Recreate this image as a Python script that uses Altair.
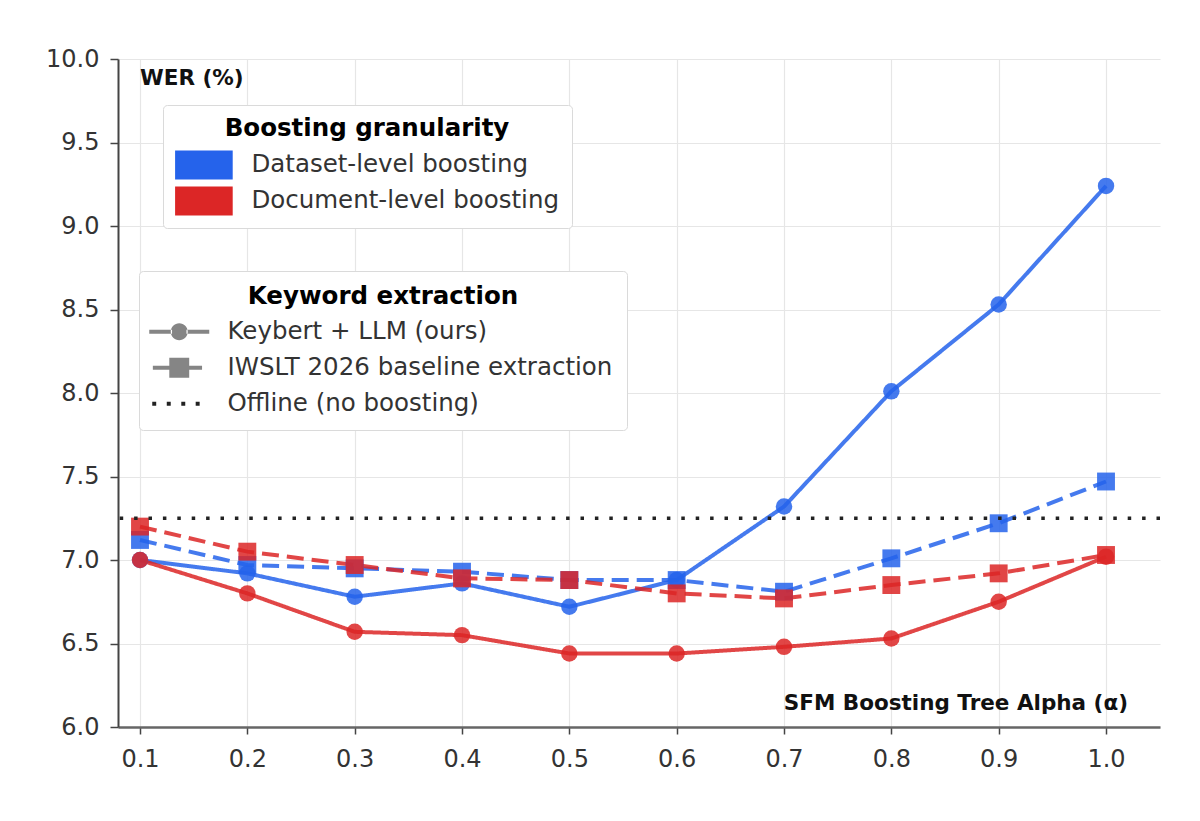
import altair as alt
import pandas as pd

alphas = [0.1, 0.2, 0.3, 0.4, 0.5, 0.6, 0.7, 0.8, 0.9, 1.0]

dataset_keybert = [7.00, 6.92, 6.78, 6.86, 6.72, 6.88, 7.32, 8.01, 8.53, 9.24]
dataset_baseline = [7.12, 6.97, 6.95, 6.93, 6.88, 6.88, 6.81, 7.01, 7.22, 7.47]
document_keybert = [7.00, 6.80, 6.57, 6.55, 6.44, 6.44, 6.48, 6.53, 6.75, 7.02]
document_baseline = [7.20, 7.05, 6.97, 6.89, 6.88, 6.80, 6.77, 6.85, 6.92, 7.03]
offline_wer = [7.25]

granularities = ["Dataset-level boosting", "Document-level boosting"]
methods = ["Keybert + LLM (ours)", "IWSLT 2026 baseline extraction"]
keyword_entries = methods + ["Offline (no boosting)"]

x_ticks = [0.1, 0.2, 0.3, 0.4, 0.5, 0.6, 0.7, 0.8, 0.9, 1.0]
y_ticks = [6.0, 6.5, 7.0, 7.5, 8.0, 8.5, 9.0, 9.5, 10.0]

BLUE = "#2563eb"
RED = "#dc2626"
FONT = "DejaVu Sans"


def get_df():
    rows = []
    series = [
        (granularities[0], methods[0], dataset_keybert),
        (granularities[0], methods[1], dataset_baseline),
        (granularities[1], methods[0], document_keybert),
        (granularities[1], methods[1], document_baseline),
    ]
    for gran, method, values in series:
        for a, w in zip(alphas, values):
            rows.append({"alpha": a, "wer": w, "granularity": gran, "method": method})
    return pd.DataFrame(rows)


def legend_box(title, x, y, **kwargs):
    return alt.Legend(
        title=title, orient="none", legendX=x, legendY=y,
        symbolStrokeWidth=0, symbolOpacity=1, titleAnchor="middle",
        titleFontSize=24.5, titleFontWeight="bold", titleColor="black",
        labelFontSize=24.5, labelColor="#333", labelLimit=600, titleLimit=600,
        fillColor="white", strokeColor="#dadada", cornerRadius=4, **kwargs
    )


df = get_df()

x_enc = alt.X(
    "alpha:Q",
    scale=alt.Scale(domain=[0.0795, 1.0503], nice=False, zero=False),
    axis=alt.Axis(values=x_ticks, format=".1f", title=None, tickSize=7,
                  labelPadding=13, domainWidth=2.5, domainColor="#666"),
)
y_enc = alt.Y(
    "wer:Q",
    scale=alt.Scale(domain=[6, 10], nice=False, zero=False),
    axis=alt.Axis(values=y_ticks, format=".1f", title=None, tickSize=8,
                  labelPadding=11, domainWidth=2, domainColor="#444"),
)
color_scale = alt.Scale(domain=granularities, range=[BLUE, RED])

lines = alt.Chart(df).mark_line(strokeWidth=4, opacity=0.85).encode(
    x=x_enc,
    y=y_enc,
    color=alt.Color("granularity:N", scale=color_scale, legend=None),
    strokeDash=alt.StrokeDash(
        "method:N",
        scale=alt.Scale(domain=methods, range=[[1, 0], [17, 8]]),
        legend=None,
    ),
)

points = alt.Chart(df).mark_point(filled=True, opacity=0.85, strokeWidth=0).encode(
    x="alpha:Q",
    y="wer:Q",
    color=alt.Color("granularity:N", scale=color_scale, legend=None),
    shape=alt.Shape("method:N", scale=alt.Scale(domain=methods, range=["circle", "square"]), legend=None),
    size=alt.Size("method:N", scale=alt.Scale(domain=methods, range=[270, 320]), legend=None),
)

offline = alt.Chart(pd.DataFrame({"wer": offline_wer})).mark_rule(
    strokeDash=[3.5, 10.9], strokeWidth=3.5, color="#222"
).encode(y="wer:Q")

wer_label = alt.Chart(pd.DataFrame({"t": ["WER (%)"]})).mark_text(
    align="left", baseline="middle", fontSize=21.5, fontWeight="bold", color="#111"
).encode(x=alt.datum(0.1), y=alt.datum(9.878), text="t:N")

alpha_label = alt.Chart(pd.DataFrame({"t": ["SFM Boosting Tree Alpha (α)"]})).mark_text(
    align="right", baseline="middle", fontSize=21.5, fontWeight="bold", color="#111"
).encode(x=alt.datum(1.0205), y=alt.datum(6.135), text="t:N")

# legend-only layers (invisible marks, visible legends)
gran_legend = legend_box(
    "Boosting granularity", 45, 46,
    symbolType="M-2,-1H2V1H-2Z", symbolSize=830, symbolOffset=14.4,
    labelOffset=33, rowPadding=7, padding=12, titlePadding=9,
)
gran_layer = alt.Chart(pd.DataFrame({"granularity": granularities})).mark_point(
    filled=True, opacity=0
).encode(
    x=alt.datum(0.5),
    y=alt.datum(8.0),
    color=alt.Color("granularity:N", scale=color_scale, legend=gran_legend),
)

glyph_paths = [
    "M-2.5,-0.167H-0.6V0.167H-2.5Z M0.6,-0.167H2.5V0.167H0.6Z "
    "M-0.708,0A0.708,0.708 0 1,0 0.708,0A0.708,0.708 0 1,0 -0.708,0Z",
    "M-2.2,-0.167H-0.8V0.167H-2.2Z M0.8,-0.167H1.9V0.167H0.8Z "
    "M-0.83,-0.83H0.83V0.83H-0.83Z",
    "M-2.25,-0.167H-1.92V0.167H-2.25Z M-1.04,-0.167H-0.71V0.167H-1.04Z "
    "M0.17,-0.167H0.5V0.167H0.17Z M1.37,-0.167H1.7V0.167H1.37Z",
]
kw_legend = legend_box(
    "Keyword extraction", 21, 212,
    symbolSize=576, symbolOffset=14, labelOffset=36, rowPadding=11,
    padding=14, titlePadding=10,
)
keyword_layer = alt.Chart(pd.DataFrame({"entry": keyword_entries})).mark_point(
    filled=True, opacity=0
).encode(
    x=alt.datum(0.5),
    y=alt.datum(8.0),
    shape=alt.Shape("entry:N", scale=alt.Scale(domain=keyword_entries, range=glyph_paths), legend=kw_legend),
    color=alt.Color("entry:N", scale=alt.Scale(domain=keyword_entries, range=["#858585", "#858585", "#222222"]), legend=kw_legend),
)

chart = (
    alt.layer(
        alt.layer(lines, points, offline, wer_label, alpha_label),
        gran_layer,
        keyword_layer,
    )
    .resolve_scale(color="independent", shape="independent")
    .properties(
        width=1042,
        height=668,
        autosize="none",
        padding={"left": 110, "top": 51, "right": 30, "bottom": 80},
    )
    .configure(font=FONT)
    .configure_view(stroke=None)
    .configure_axis(
        labelFont=FONT, labelFontSize=24, labelColor="#333", tickColor="#444",
        tickWidth=1.5, gridColor="#e6e6e6", gridWidth=1.2,
    )
)

chart.save("out.html", embed_options={"renderer": "svg", "actions": False})
